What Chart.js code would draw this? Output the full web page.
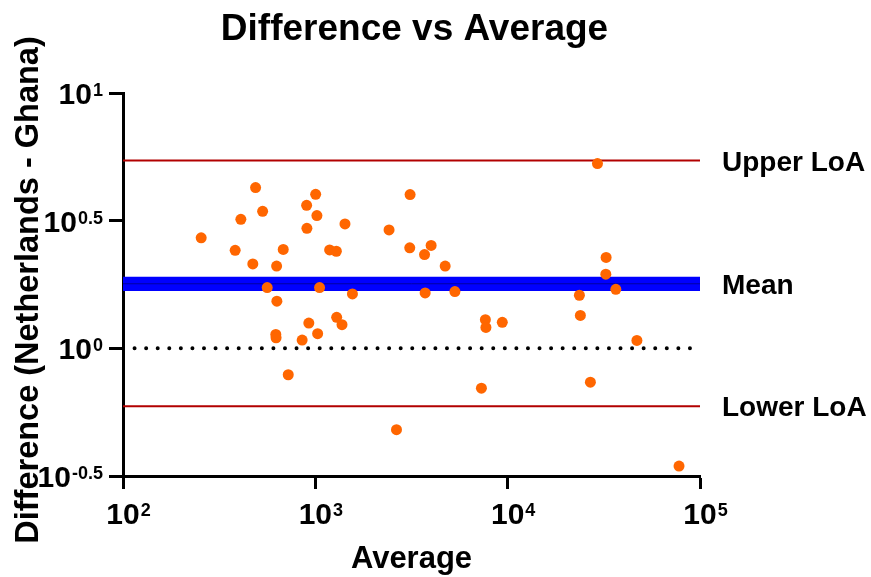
<!DOCTYPE html>
<html>
<head>
<meta charset="utf-8">
<script src="https://cdn.jsdelivr.net/npm/chart.js@4/dist/chart.umd.min.js"></script>
<style>
  body { margin: 0; background: #fff; }
  #wrap { width: 871px; height: 577px; position: relative; }
</style>
</head>
<body>
<div id="wrap"><canvas id="baChart"></canvas></div>
<script>
// Bland-Altman data
const average = [255, 383, 410, 473, 489, 532, 562, 629, 631, 623, 625, 681, 723, 854, 901, 904, 925,
    1004, 1019, 1028, 1052, 1187, 1286, 1291, 1376, 1426, 1559, 2417, 2642, 3109, 3097, 3696, 3724,
    4000, 4732, 5317, 7303, 7657, 7709, 9376, 23600, 23880, 26920, 29300, 32500, 32380, 36510, 46980, 77800];
const difference = [2.71, 2.42, 3.20, 2.14, 4.26, 3.44, 1.73, 2.10, 1.53, 1.134, 1.10, 2.44, 0.788, 1.077, 3.63,
    2.95, 1.256, 4.01, 3.31, 1.141, 1.73, 2.43, 2.40, 1.323, 1.238, 3.07, 1.633, 2.91, 0.48, 4.00, 2.475,
    2.33, 1.648, 2.53, 2.10, 1.668, 0.698, 1.295, 1.208, 1.264, 1.614, 1.346, 0.737, 5.29, 2.27, 1.951,
    1.703, 1.074, 0.346];

const upperLoA = 5.44;
const meanDiff = 1.79;
const meanCI = [1.678, 1.905];
const lowerLoA = 0.593;
const zeroLine = 1;

const xRange = [100, 100000];
const xTickPowers = [2, 3, 4, 5];
const yTickPowers = [-0.5, 0, 0.5, 1];
const refLabels = ["Upper LoA", "Mean", "Lower LoA"];

const FONT = '"Liberation Sans", Arial, sans-serif';

function hLine(v) {
    return [{ x: xRange[0], y: v }, { x: xRange[1], y: v }];
}

const points = average.map((a, i) => ({ x: a, y: difference[i] }));

// draws "10" with a superscript exponent
function drawPower(ctx, exp, x, y, align) {
    ctx.font = "bold 30px " + FONT;
    const wb = ctx.measureText("10").width;
    ctx.font = "bold 18px " + FONT;
    const we = ctx.measureText(exp).width;
    let left;
    if (align === "right") left = x - wb - we - 1;
    else left = x - wb / 2;
    ctx.textAlign = "left";
    ctx.textBaseline = "alphabetic";
    ctx.font = "bold 30px " + FONT;
    ctx.fillText("10", left, y);
    ctx.font = "bold 18px " + FONT;
    ctx.fillText(exp, left + wb + 1, y - 8);
}

const textPlugin = {
    id: "textPlugin",
    afterDraw(chart) {
        const ctx = chart.ctx;
        const area = chart.chartArea;
        const xs = chart.scales.x;
        const ys = chart.scales.y;
        ctx.save();
        ctx.fillStyle = "#000";

        // title
        ctx.font = "bold 37px " + FONT;
        ctx.textAlign = "center";
        ctx.textBaseline = "alphabetic";
        ctx.fillText("Difference vs Average", (area.left + area.right) / 2 + 3, 40);

        // axis titles
        ctx.font = "bold 31px " + FONT;
        ctx.fillText("Average", (area.left + area.right) / 2, 568);

        ctx.save();
        ctx.translate(38, 290);
        ctx.rotate(-Math.PI / 2);
        ctx.font = "bold 32.5px " + FONT;
        ctx.textAlign = "center";
        ctx.fillText("Difference (Netherlands - Ghana)", 0, 0);
        ctx.restore();

        // tick labels
        xTickPowers.forEach(p => {
            drawPower(ctx, String(p), xs.getPixelForValue(Math.pow(10, p)), 524, "center");
        });
        yTickPowers.forEach(p => {
            drawPower(ctx, String(p), area.left - 20, ys.getPixelForValue(Math.pow(10, p)) + 11, "right");
        });

        // reference line labels
        ctx.font = "bold 28px " + FONT;
        ctx.textAlign = "left";
        [upperLoA, meanDiff, lowerLoA].forEach((v, i) => {
            ctx.fillText(refLabels[i], area.right + 22, ys.getPixelForValue(v) + 10);
        });
        ctx.restore();
    }
};

new Chart(document.getElementById("baChart"), {
    type: "scatter",
    data: {
        datasets: [
            { label: "Points", data: points, backgroundColor: "#ff6600", pointRadius: 5.5,
              pointBorderWidth: 0, order: 0 },
            { type: "line", label: "Upper LoA", data: hLine(upperLoA), borderColor: "#b20000",
              borderWidth: 2, pointRadius: 0, order: 2 },
            { type: "line", label: "Mean CI high", data: hLine(meanCI[1]), borderWidth: 0,
              backgroundColor: "#0000ff", fill: "+1", pointRadius: 0, order: 3 },
            { type: "line", label: "Mean CI low", data: hLine(meanCI[0]), borderWidth: 0,
              pointRadius: 0, order: 3 },
            { type: "line", label: "Mean", data: hLine(meanDiff), borderColor: "#0000a0",
              borderWidth: 1, pointRadius: 0, order: 2 },
            { type: "line", label: "Zero", data: hLine(zeroLine), borderColor: "#000",
              borderWidth: 4, borderDash: [0, 11.57], borderCapStyle: "round", pointRadius: 0, order: 2 },
            { type: "line", label: "Lower LoA", data: hLine(lowerLoA), borderColor: "#b20000",
              borderWidth: 2, pointRadius: 0, order: 2 }
        ]
    },
    options: {
        responsive: true,
        maintainAspectRatio: false,
        animation: false,
        layout: { padding: { top: 93, right: 171, bottom: 0, left: 0 } },
        plugins: {
            legend: { display: false },
            tooltip: { enabled: false },
            title: { display: false }
        },
        scales: {
            x: {
                type: "logarithmic",
                bounds: "data",
                min: xRange[0],
                max: xRange[1],
                afterBuildTicks: s => { s.ticks = xTickPowers.map(p => ({ value: Math.pow(10, p) })); },
                afterFit: s => { s.height = 101; },
                ticks: { display: false },
                grid: { drawOnChartArea: false, drawTicks: true, tickLength: 13, tickWidth: 3, tickColor: "#000" },
                border: { display: true, color: "#000", width: 3 }
            },
            y: {
                type: "logarithmic",
                bounds: "data",
                min: Math.pow(10, -0.5),
                max: 10,
                afterBuildTicks: s => { s.ticks = yTickPowers.map(p => ({ value: Math.pow(10, p) })); },
                afterFit: s => { s.width = 123; },
                ticks: { display: false },
                grid: { drawOnChartArea: false, drawTicks: true, tickLength: 14, tickWidth: 3, tickColor: "#000" },
                border: { display: true, color: "#000", width: 3 }
            }
        }
    },
    plugins: [textPlugin]
});
</script>
</body>
</html>
